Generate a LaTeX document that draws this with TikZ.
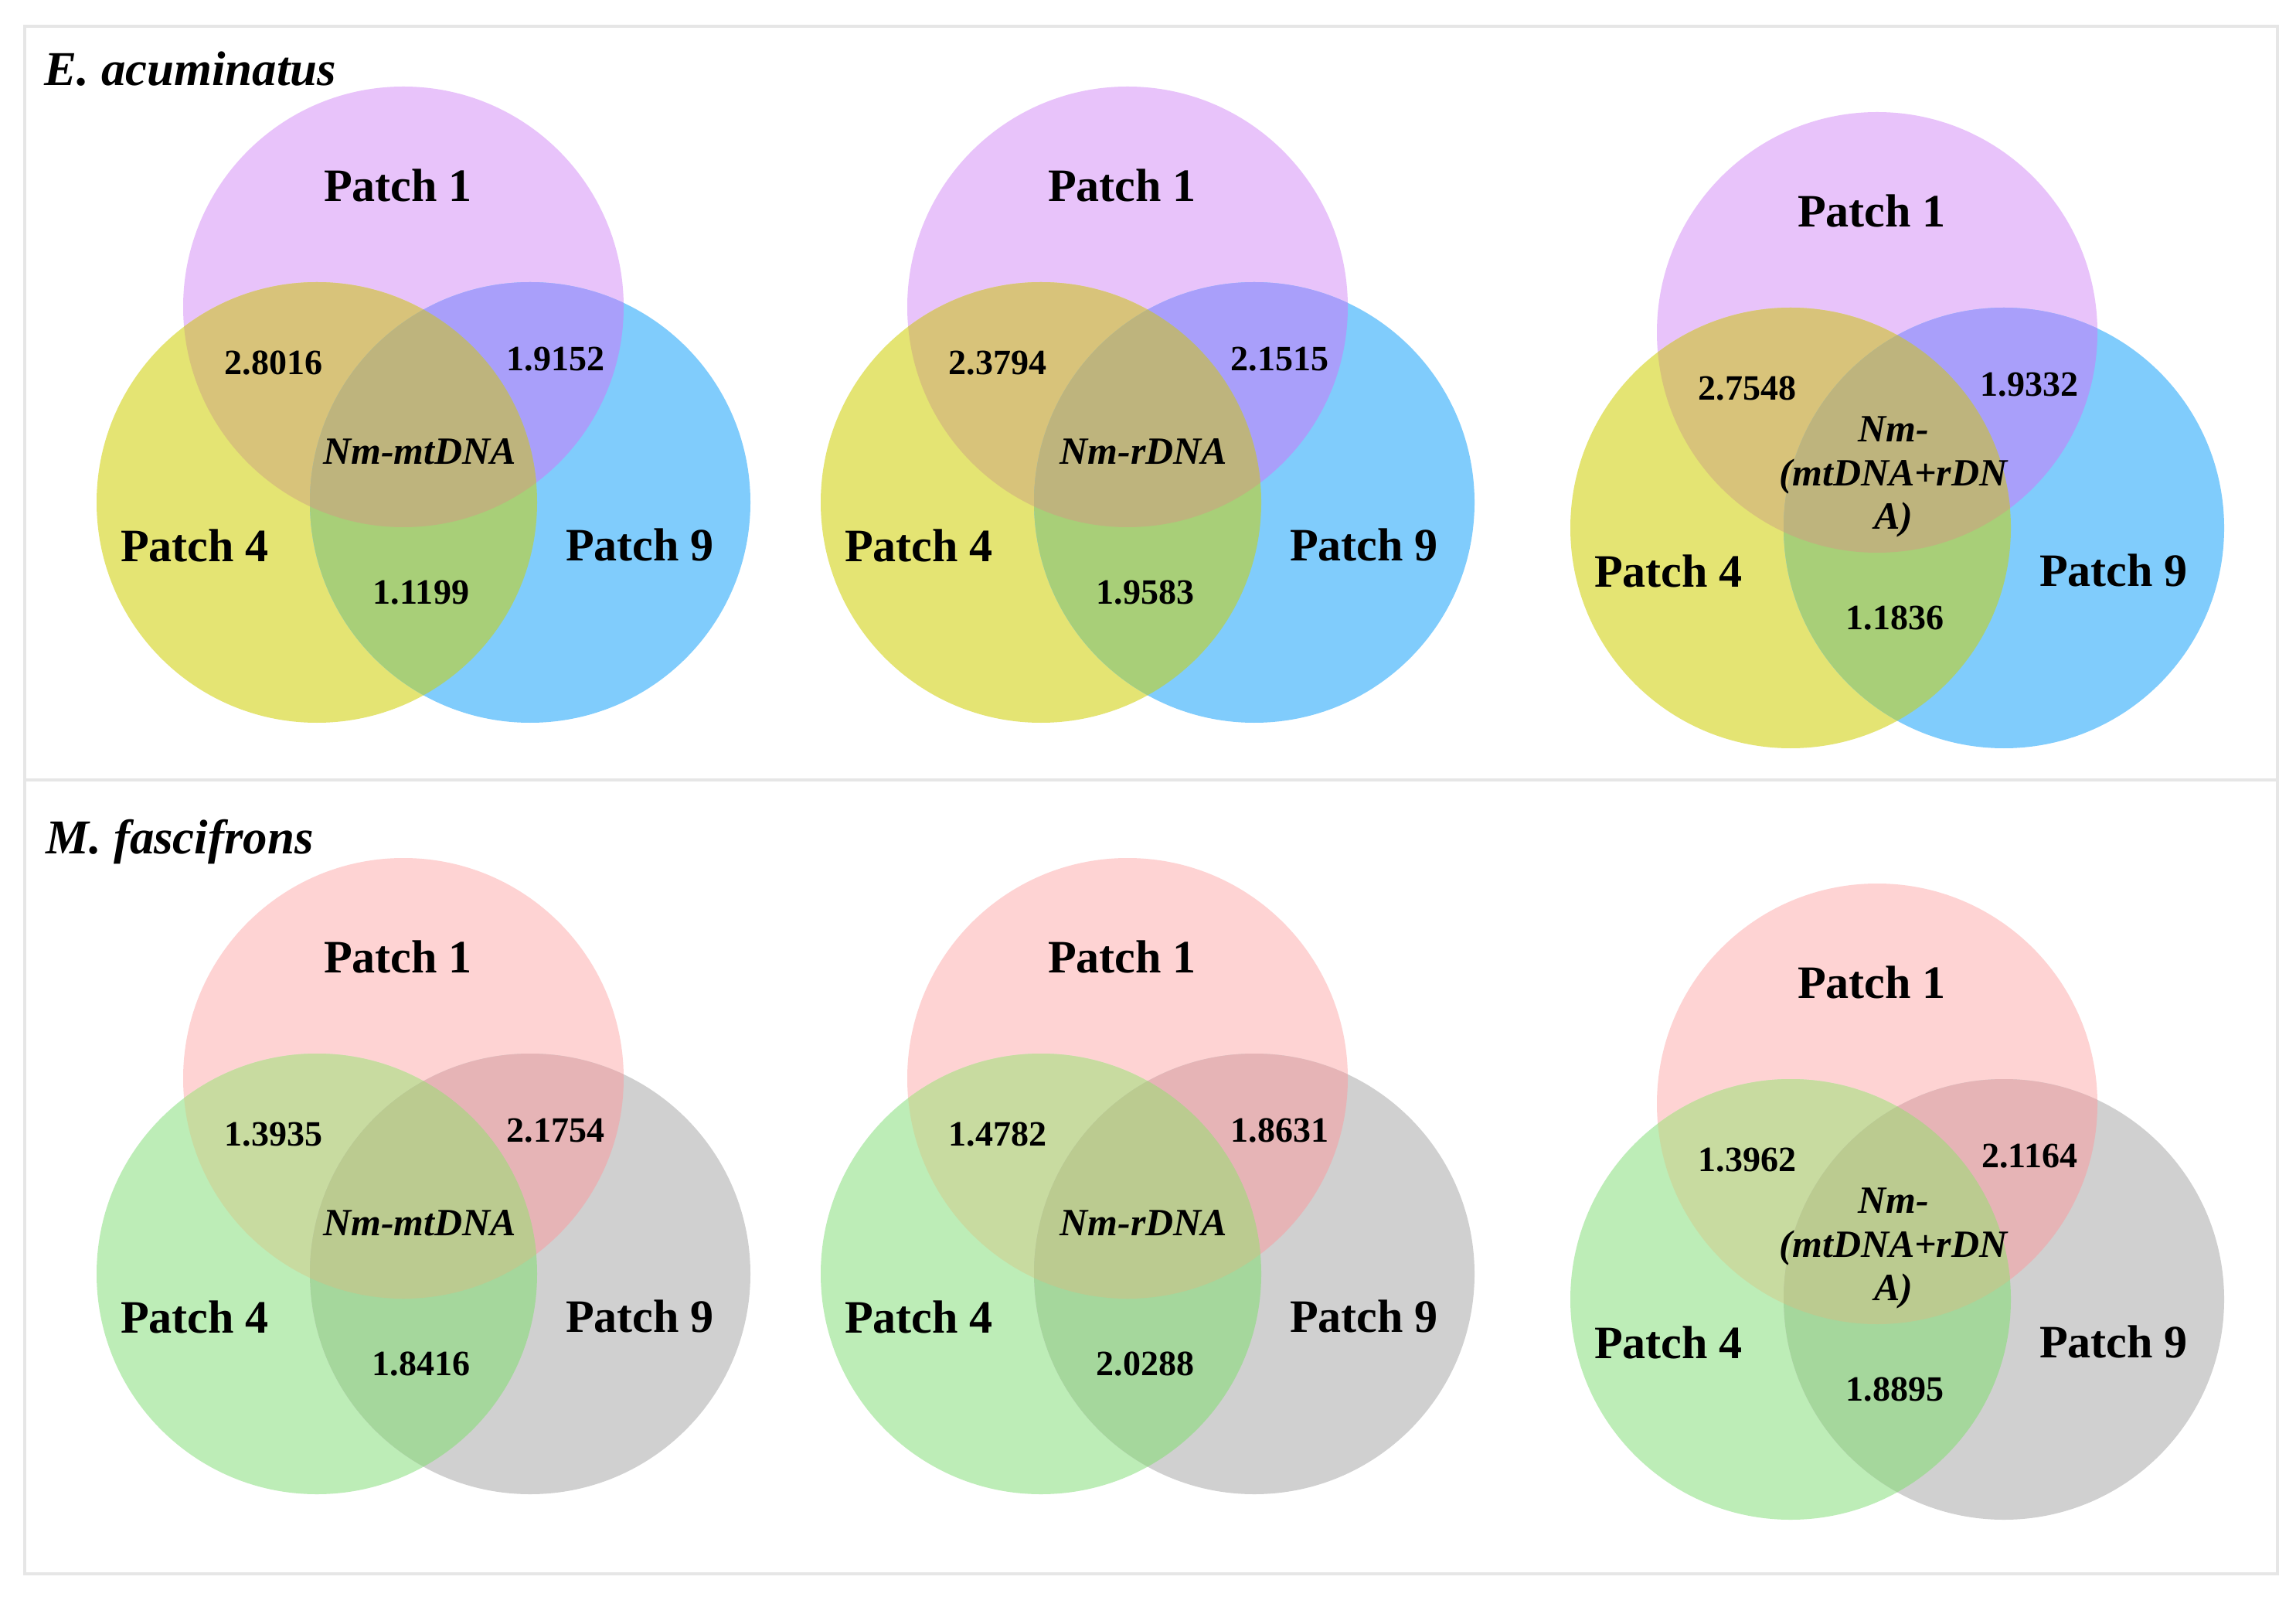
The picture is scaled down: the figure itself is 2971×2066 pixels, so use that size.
\documentclass[tikz,border=0pt]{standalone}
\usepackage{fontspec}
\setmainfont{Liberation Serif}
\definecolor{framegray}{HTML}{E6E6E6}
% E. acuminatus row
\definecolor{ea1}{HTML}{E8C3FA}
\definecolor{ea4}{HTML}{E4E473}
\definecolor{ea9}{HTML}{80CCFC}
\definecolor{ea14}{HTML}{D8C37A}
\definecolor{ea19}{HTML}{A99FFA}
\definecolor{ea49}{HTML}{A8CF78}
\definecolor{ea149}{HTML}{BEB47D}
% M. fascifrons row
\definecolor{mf1}{HTML}{FED3D3}
\definecolor{mf4}{HTML}{BDEDB7}
\definecolor{mf9}{HTML}{D0D0D0}
\definecolor{mf14}{HTML}{C8DBA0}
\definecolor{mf19}{HTML}{E6B4B6}
\definecolor{mf49}{HTML}{A5D79C}
\definecolor{mf149}{HTML}{BBCB90}

\tikzset{
  patchlab/.style={inner sep=0pt,font=\fontsize{17.1}{20}\selectfont\bfseries},
  vallab/.style={inner sep=0pt,font=\fontsize{13.1}{15}\selectfont\bfseries},
  nmlab/.style={inner sep=0pt,align=center,font=\fontsize{14.2}{16.2}\selectfont\bfseries\itshape},
  species/.style={inner sep=0pt,anchor=west,font=\fontsize{17.9}{20}\selectfont\bfseries\itshape}
}

% #1 name, #2 #3 shift, #4 colour set, #5 P1-P4, #6 P1-P9, #7 P4-P9, #8 centre
\newcommand{\venn}[8]{%
  \begin{scope}[shift={(#2,#3)}]
    \coordinate (#1a) at (522,397);
    \coordinate (#1b) at (410,650);
    \coordinate (#1c) at (686,650);
    % single sets
    \fill[#41] (#1a) circle[radius=285];
    \fill[#44] (#1b) circle[radius=285];
    \fill[#49] (#1c) circle[radius=285];
    % overlaps
    \begin{scope}
      \clip (#1a) circle[radius=285];
      \fill[#414] (#1b) circle[radius=285];
    \end{scope}
    \begin{scope}
      \clip (#1a) circle[radius=285];
      \fill[#419] (#1c) circle[radius=285];
    \end{scope}
    \begin{scope}
      \clip (#1b) circle[radius=285];
      \fill[#449] (#1c) circle[radius=285];
    \end{scope}
    \begin{scope}
      \clip (#1a) circle[radius=285];
      \clip (#1b) circle[radius=285];
      \fill[#4149] (#1c) circle[radius=285];
    \end{scope}
    % labels
    \node[patchlab] (#1p1) at (515,240) {Patch 1};
    \node[patchlab] (#1p4) at (252,706) {Patch 4};
    \node[patchlab] (#1p9) at (828,705) {Patch 9};
    \node[vallab] (#1v14) at (354,470) {#5};
    \node[vallab] (#1v19) at (719,465) {#6};
    \node[vallab] (#1v49) at (545,767) {#7};
    \node[nmlab] (#1nm) at (543,584) {#8};
  \end{scope}}

\begin{document}
\begin{tikzpicture}[x=0.1mm,y=-0.1mm]
  \fill[white] (0,0) rectangle (2971,2066);
  \useasboundingbox (0,0) rectangle (2971,2066);
  % panel frame
  \draw[framegray,line width=0.4mm] (32,34) rectangle (2947,2036);
  \draw[framegray,line width=0.4mm] (32,1009) -- (2947,1009);
  % top row
  \node[species] (eaname) at (57,89) {E. acuminatus};
  \venn{eamt}{0}{0}{ea}{2.8016}{1.9152}{1.1199}{Nm-mtDNA}
  \venn{earr}{937}{0}{ea}{2.3794}{2.1515}{1.9583}{Nm-rDNA}
  \venn{eaall}{1907}{33}{ea}{2.7548}{1.9332}{1.1836}{Nm-\\(mtDNA+rDN\\A)}
  % bottom row
  \node[species] (mfname) at (59,1089) {M. fascifrons};
  \venn{mfmt}{0}{998}{mf}{1.3935}{2.1754}{1.8416}{Nm-mtDNA}
  \venn{mfrr}{937}{998}{mf}{1.4782}{1.8631}{2.0288}{Nm-rDNA}
  \venn{mfall}{1907}{1031}{mf}{1.3962}{2.1164}{1.8895}{Nm-\\(mtDNA+rDN\\A)}
\end{tikzpicture}
\end{document}
